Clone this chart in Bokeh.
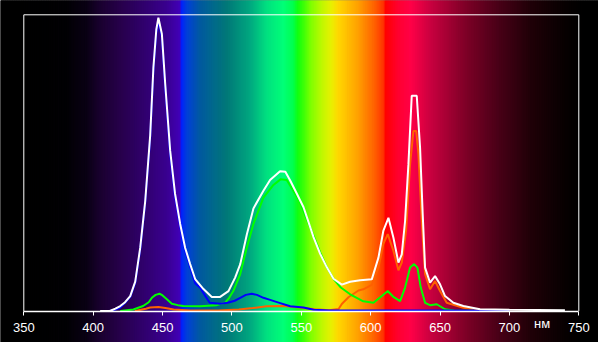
import numpy as np
from bokeh.plotting import figure
from bokeh.models import Range1d, LinearAxis, FixedTicker
from bokeh.core.properties import value
from bokeh.embed import file_html
from bokeh.resources import INLINE

# ---- data, wavelength in nm, relative intensity ----
white_nm = [405, 412, 416, 419.5, 423, 426.7, 430.3, 433.9, 437.5, 441.1, 443.4, 445.5, 447, 449.5,
            451.9, 455.5, 459, 462.7, 466.3, 469.9, 473.5, 479.5, 485.5, 491.5, 497.5, 502.3, 506,
            510.7, 515.5, 522.7, 527.5, 534.7, 538.5, 542, 546.8, 551.6, 555.2, 558.8, 563.6, 568.4,
            573.2, 579.2, 585.2, 592.4, 600.8, 605.6, 609.1, 612.8, 616.4, 620, 622.4, 624.8, 627.2,
            629.6, 633.2, 635.6, 637.5, 639.2, 642.8, 646.4, 650, 653.6, 659.6, 666.8, 678.8, 700, 740]
white_val = [0.0, 0.0, 0.008, 0.017, 0.03, 0.051, 0.10, 0.216, 0.375, 0.60, 0.83, 0.96, 1.0, 0.945,
             0.775, 0.546, 0.40, 0.297, 0.215, 0.16, 0.109, 0.075, 0.048, 0.048, 0.068, 0.114, 0.16,
             0.26, 0.35, 0.41, 0.447, 0.477, 0.475, 0.445, 0.40, 0.354, 0.303, 0.252, 0.195, 0.149,
             0.11, 0.09, 0.10, 0.105, 0.108, 0.182, 0.273, 0.318, 0.25, 0.165, 0.193, 0.307, 0.50,
             0.734, 0.734, 0.557, 0.33, 0.148, 0.097, 0.119, 0.091, 0.051, 0.028, 0.017, 0.006, 0.004, 0.003]

blue_nm = [412, 416, 419.5, 423, 426.7, 430.3, 433.9, 437.5, 441.1, 443.4, 445.5, 447, 449.5, 451.9,
           455.5, 459, 462.7, 466.3, 469.9, 473.5, 477, 481, 484, 491.5, 497, 502, 506, 510, 514.3,
           518, 522.7, 527.5, 534.8, 542, 551.6, 558.8, 570, 600, 650, 700]
blue_val = [0.0, 0.005, 0.012, 0.028, 0.048, 0.095, 0.21, 0.37, 0.59, 0.82, 0.95, 0.99, 0.935, 0.765,
            0.535, 0.39, 0.288, 0.205, 0.15, 0.095, 0.08, 0.05, 0.028, 0.025, 0.028, 0.035, 0.045,
            0.055, 0.059, 0.055, 0.045, 0.038, 0.027, 0.016, 0.012, 0.004, 0.002, 0.002, 0.002, 0.002]

green_nm = [419.5, 429, 436, 440, 442.3, 445, 447.8, 450, 451.9, 456.7, 461, 465, 477, 489, 495, 498,
            501, 506, 510.7, 515.5, 522.7, 529.9, 535, 539.5, 543.6, 548.5, 553.3, 558.8, 563.6,
            568.4, 573.2, 578.5, 585.2, 594.7, 602, 608, 612.3, 616.4, 621.2, 624.8, 628.4, 631.3,
            633.7, 636.1, 639.2, 642.8, 647.6, 653.6, 660, 680]
green_val = [0.0, 0.005, 0.017, 0.03, 0.045, 0.055, 0.059, 0.053, 0.045, 0.025, 0.02, 0.017, 0.016,
             0.02, 0.028, 0.045, 0.068, 0.126, 0.216, 0.297, 0.387, 0.43, 0.449, 0.447, 0.415, 0.377,
             0.32, 0.257, 0.2, 0.149, 0.11, 0.08, 0.057, 0.033, 0.028, 0.051, 0.068, 0.048, 0.034,
             0.08, 0.148, 0.16, 0.148, 0.08, 0.028, 0.02, 0.023, 0.006, 0.002, 0.0]

red_nm = [430, 438, 441, 447, 452, 458, 470, 490, 505, 515, 525, 537, 549, 560, 570, 576.9, 579.2,
          584, 591.2, 594.7, 600.8, 605.6, 609.1, 612.3, 616.4, 620, 622.4, 625.5, 628.4, 630.8,
          632.8, 634.4, 636.8, 639.2, 642.8, 646.4, 650, 654.8, 666.8, 678.8]
red_val = [0.0, 0.008, 0.012, 0.014, 0.01, 0.005, 0.002, 0.002, 0.005, 0.01, 0.016, 0.017, 0.012,
           0.006, 0.003, 0.007, 0.024, 0.047, 0.07, 0.074, 0.089, 0.148, 0.228, 0.262, 0.205, 0.139,
           0.165, 0.273, 0.50, 0.614, 0.614, 0.535, 0.307, 0.126, 0.074, 0.102, 0.068, 0.028, 0.011, 0.003]

tick_values = [350, 400, 450, 500, 550, 600, 650, 700, 750]
unit_label = "нм"

# ---- figure covering the whole window ----
p = figure(width=598, height=342, output_backend="svg", toolbar_location=None,
           x_range=Range1d(333.2, 764.2), y_range=Range1d(-0.1074, 1.059),
           min_border=0, x_axis_location=None, y_axis_location=None)
p.background_fill_color = "black"
p.border_fill_color = "black"
p.outline_line_color = None
p.grid.visible = False

# spectrum background (decoration)
stops = [(333, "#000000"), (380, "#020004"), (395, "#0a0014"), (405, "#1a0030"), (420, "#28004c"),
         (435, "#30006a"), (453, "#3a0090"), (462.5, "#4200b8"), (463.5, "#0020ff"), (467.5, "#0040d8"),
         (477, "#005aa0"), (496, "#007878"), (513, "#00a880"), (525, "#00e080"), (537, "#00ff78"),
         (544, "#00ff50"), (547.5, "#10ff10"), (552, "#40ff08"), (557, "#80ff00"), (565, "#c0f800"),
         (571.5, "#e8f000"), (576.5, "#ffd800"), (591, "#ffa000"), (603, "#ff6000"), (609.5, "#ff3000"),
         (610.5, "#ff0000"), (619.7, "#ff0030"), (629, "#ff0048"), (643.5, "#c80040"), (667.8, "#800028"),
         (691.8, "#4a0018"), (715.5, "#200008"), (739.8, "#080002"), (755, "#000000"), (766, "#000000")]
s_nm = np.array([s[0] for s in stops])
s_rgb = np.array([[int(s[1][i:i + 2], 16) for i in (1, 3, 5)] for s in stops], dtype=float)
edges = np.arange(333.0, 765.5, 0.5)
mids = (edges[:-1] + edges[1:]) / 2
cols = []
for m in mids:
    r, g, b = (int(round(np.interp(m, s_nm, s_rgb[:, k]))) for k in range(3))
    cols.append("#%02x%02x%02x" % (r, g, b))
p.quad(left=edges[:-1], right=edges[1:] + 0.6, bottom=-0.2, top=1.2, fill_color=cols, line_color=None)

# frame
top_v = 1.0102
p.line([350, 350, 750, 750], [0, top_v, top_v, 0], line_color="white", line_width=1)

# series
p.line(red_nm, red_val, line_color="#ff6000", line_width=2)
p.line(green_nm, green_val, line_color="#00ff00", line_width=2)
p.line(blue_nm, blue_val, line_color="#0000ff", line_width=2)
p.line(white_nm, white_val, line_color="#ffffff", line_width=2)

# x axis at value 0
ax = LinearAxis(ticker=FixedTicker(ticks=tick_values), fixed_location=0, bounds=(350, 750))
ax.axis_line_color = "white"
ax.axis_line_width = 1.5
ax.major_tick_line_color = "white"
ax.major_tick_out = 4
ax.major_tick_in = 0
ax.minor_tick_line_color = None
ax.major_label_text_color = "white"
ax.major_label_text_font = "Liberation Sans"
ax.major_label_text_font_size = "13px"
ax.major_label_standoff = 8
p.add_layout(ax, "below")

p.text(x=[723.6], y=[-0.0426], text=[unit_label], text_color="white", text_font=value("Liberation Sans"),
       text_font_size="13px", text_align="center", text_baseline="middle")

open("out.html", "w").write(file_html(p, INLINE))
